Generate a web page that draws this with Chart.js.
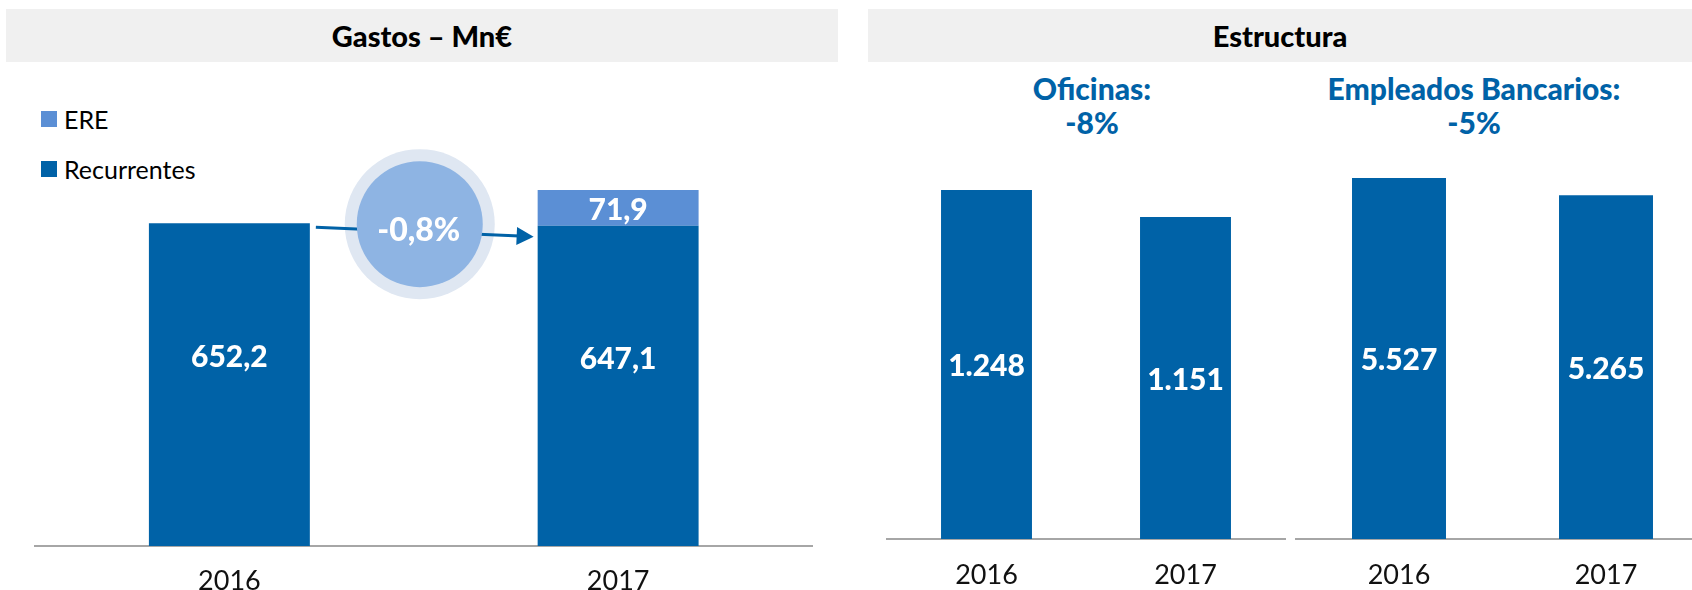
<!DOCTYPE html>
<html>
<head>
<meta charset="utf-8">
<script src="https://cdn.jsdelivr.net/npm/chart.js@4"></script>
<style>
  body { margin: 0; width: 1692px; height: 590px; overflow: hidden; position: relative; background: #fff; font-family: Lato, sans-serif; }
  .head { position: absolute; top: 9px; height: 53px; background: #f0f0f0; display: flex; align-items: center; justify-content: center; font-weight: 900; font-size: 29px; color: #000; }
  .sub { position: absolute; top: 71px; text-align: center; font-weight: 900; font-size: 30px; line-height: 34px; color: #0062a7; }
  .leg { position: absolute; left: 41px; width: 16px; height: 16px; }
  .legtxt { position: absolute; left: 64px; font-size: 25px; line-height: 30px; color: #000; }
  canvas { position: absolute; top: 20px; }
</style>
</head>
<body>
<div class="head" style="left:6px;width:832px">Gastos – Mn€</div>
<div class="head" style="left:868px;width:824px">Estructura</div>

<div class="leg" style="top:111px;background:#5b8fd5"></div>
<div class="legtxt" style="top:104px">ERE</div>
<div class="leg" style="top:161px;background:#0062a7"></div>
<div class="legtxt" style="top:154px">Recurrentes</div>

<div class="sub" id="sub-of" style="left:942px;width:300px"></div>
<div class="sub" id="sub-emp" style="left:1274px;width:400px"></div>

<canvas id="gastos" width="850" height="600" style="left:0"></canvas>
<canvas id="oficinas" width="440" height="600" style="left:860px"></canvas>
<canvas id="empleados" width="430" height="600" style="left:1290px"></canvas>

<script>
// data
const years = ['2016', '2017'];
const recurrentes = [652.2, 647.1];
const ere = [null, 71.9];
const oficinas = [1248, 1151];
const empleados = [5527, 5265];

const darkBlue = '#0062a7';
const lightBlue = '#5b8fd5';
const axisGrey = '#a6a6a6';

function fmtDec(v) { return v.toFixed(1).replace('.', ','); }
function fmtInt(v) { return String(v).replace(/\B(?=(\d{3})+(?!\d))/g, '.'); }
function pct(arr, dec) { return ((arr[1] / arr[0] - 1) * 100).toFixed(dec).replace('.', ',') + '%'; }

document.getElementById('sub-of').innerHTML = 'Oficinas:<br>' + pct(oficinas, 0);
document.getElementById('sub-emp').innerHTML = 'Empleados Bancarios:<br>' + pct(empleados, 0);

// white value labels inside the bars
const valueLabels = {
    id: 'valueLabels',
    afterDatasetsDraw(chart) {
        const ctx = chart.ctx;
        ctx.save();
        ctx.fillStyle = '#fff';
        ctx.font = '900 30px Lato';
        ctx.textAlign = 'center';
        ctx.textBaseline = 'middle';
        chart.data.datasets.forEach((ds, i) => {
            chart.getDatasetMeta(i).data.forEach((bar, j) => {
                const v = ds.data[j];
                if (!v) return;
                const at = ds.labelAt || 0.5;
                const y = bar.y + (bar.base - bar.y) * at;
                ctx.fillText(ds.fmt(v), bar.x, y + 2);
            });
        });
        ctx.restore();
    }
};

// change bubble + arrow between the two Gastos bars
const changeBubble = {
    id: 'changeBubble',
    afterDatasetsDraw(chart) {
        const ctx = chart.ctx;
        const bars = chart.getDatasetMeta(0).data;
        const b0 = bars[0], b1 = bars[1];
        const x0 = b0.x + b0.width / 2 + 6, y0 = b0.y + 4;
        const x1 = b1.x - b1.width / 2 - 4, y1 = b1.y + 11;
        const cx = (b0.x + b0.width / 2 + b1.x - b1.width / 2) / 2 - 4;
        const cy = b0.y + 1;
        ctx.save();
        ctx.fillStyle = '#dfe7f2';
        ctx.beginPath(); ctx.arc(cx, cy, 75, 0, Math.PI * 2); ctx.fill();
        // arrow
        const ang = Math.atan2(y1 - y0, x1 - x0);
        ctx.strokeStyle = darkBlue;
        ctx.lineWidth = 3;
        ctx.beginPath();
        ctx.moveTo(x0, y0);
        ctx.lineTo(x1 - 14 * Math.cos(ang), y1 - 14 * Math.sin(ang));
        ctx.stroke();
        ctx.fillStyle = darkBlue;
        ctx.translate(x1, y1);
        ctx.rotate(ang);
        ctx.beginPath(); ctx.moveTo(0, 0); ctx.lineTo(-17, -9); ctx.lineTo(-17, 9); ctx.closePath(); ctx.fill();
        ctx.setTransform(1, 0, 0, 1, 0, 0);
        ctx.fillStyle = '#8eb4e3';
        ctx.beginPath(); ctx.arc(cx, cy, 63, 0, Math.PI * 2); ctx.fill();
        ctx.fillStyle = '#fff';
        ctx.font = '900 32px Lato';
        ctx.textAlign = 'center';
        ctx.textBaseline = 'middle';
        ctx.fillText(pct(recurrentes, 1), cx - 1, cy + 7);
        ctx.restore();
    }
};

function xAxis(padding) {
    return {
        stacked: true,
        grid: { display: false, drawTicks: false },
        border: { color: axisGrey, width: 2 },
        ticks: { padding: padding, color: '#111', font: { family: 'Lato', size: 27 } }
    };
}

const common = {
    responsive: false,
    animation: false,
    plugins: { legend: { display: false }, tooltip: { enabled: false } }
};

new Chart(document.getElementById('gastos'), {
    type: 'bar',
    data: {
        labels: years,
        datasets: [
            { label: 'Recurrentes', data: recurrentes, backgroundColor: darkBlue, barPercentage: 0.414, categoryPercentage: 1, labelAt: 0.41, fmt: fmtDec },
            { label: 'ERE', data: ere, backgroundColor: lightBlue, barPercentage: 0.414, categoryPercentage: 1, fmt: fmtDec }
        ]
    },
    options: {
        ...common,
        layout: { padding: { left: 35, right: 37.5, top: 80, bottom: 3.6 } },
        scales: {
            x: xAxis(19),
            y: { stacked: true, display: false, min: 0, max: 901 }
        }
    },
    plugins: [changeBubble, valueLabels]
});

new Chart(document.getElementById('oficinas'), {
    type: 'bar',
    data: {
        labels: years,
        datasets: [{ label: 'Oficinas', data: oficinas, backgroundColor: darkBlue, barPercentage: 0.457, categoryPercentage: 1, fmt: fmtInt }]
    },
    options: {
        ...common,
        layout: { padding: { left: 27, right: 15, top: 130, bottom: 8.6 } },
        scales: { x: xAxis(20), y: { display: false, min: 0, max: 1391 } }
    },
    plugins: [valueLabels]
});

new Chart(document.getElementById('empleados'), {
    type: 'bar',
    data: {
        labels: years,
        datasets: [{ label: 'Empleados Bancarios', data: empleados, backgroundColor: darkBlue, barPercentage: 0.454, categoryPercentage: 1, fmt: fmtInt }]
    },
    options: {
        ...common,
        layout: { padding: { left: 5.5, right: 10.5, top: 130, bottom: 8.6 } },
        scales: { x: xAxis(20), y: { display: false, min: 0, max: 5956 } }
    },
    plugins: [valueLabels]
});
</script>
</body>
</html>
